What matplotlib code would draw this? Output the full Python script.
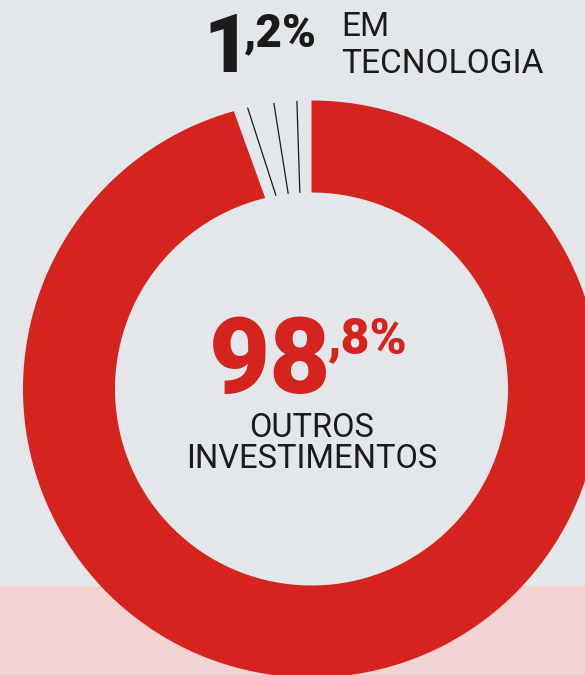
import numpy as np
import matplotlib
matplotlib.use("Agg")
import matplotlib.pyplot as plt
from matplotlib.patches import Polygon, Rectangle

# ---- data ----
categories = ["Outros investimentos", "Em tecnologia"]
shares = [98.8, 1.2]
big_labels = ["98", "1"]
small_labels = [",8%", ",2%"]
text_labels = [["OUTROS", "INVESTIMENTOS"], ["EM", "TECNOLOGIA"]]

# ---- style ----
BG = "#e3e7ea"
PINK = "#f4d3d3"
RED = "#d5231e"
DARK = "#1b1b1b"
W, H = 585, 675
CX, CY = 311.5, 389.0
R_OUT, R_IN = 288.5, 196.5
GAP_OUT, GAP_IN = 11.3, 9.3          # visual gap around the small slice (deg)
HATCH_ANGLES = [(-12.8, -10.4), (-7.5, -6.8), (-2.9, -3.4)]  # (outer, inner) deg

plt.rcParams['font.family'] = ['Roboto', 'DejaVu Sans']

fig = plt.figure(figsize=(W / 100, H / 100), dpi=100, facecolor=BG)
ax = fig.add_axes([0, 0, 1, 1])
ax.set_xlim(0, W)
ax.set_ylim(H, 0)
ax.set_aspect('equal')
ax.axis('off')
ax.set_facecolor(BG)

ax.add_patch(Rectangle((0, CY + R_IN), W, H - (CY + R_IN), color=PINK, zorder=0, lw=0))


def pt(phi_deg, r):
    p = np.deg2rad(phi_deg)
    return CX + r * np.sin(p), CY - r * np.cos(p)


# main slice (clockwise from 12 o'clock)
span = 360.0 * shares[0] / sum(shares)
end_out = span - GAP_OUT
end_in = span - GAP_IN
ph_o = np.linspace(0, end_out, 400)
ph_i = np.linspace(end_in, 0, 400)
outer = np.column_stack(pt(ph_o, R_OUT))
inner = np.column_stack(pt(ph_i, R_IN))
ax.add_patch(Polygon(np.vstack([outer, inner]), closed=True, color=RED, lw=0, zorder=2))

# small slice drawn as thin lines
for a_o, a_i in HATCH_ANGLES:
    x0, y0 = pt(a_o, R_OUT)
    x1, y1 = pt(a_i, R_IN)
    ax.plot([x0, x1], [y0, y1], color=DARK, lw=0.9, zorder=3, solid_capstyle='butt')

# center label
ax.text(209, 393, big_labels[0], color=RED, fontsize=76, fontweight=900,
        ha='left', va='baseline', zorder=4)
ax.text(328, 353, small_labels[0], color=RED, fontsize=36, fontweight=900,
        ha='left', va='baseline', zorder=4)
ax.text(312, 437, text_labels[0][0], color=DARK, fontsize=23.5, ha='center', va='baseline', zorder=4)
ax.text(312, 468.5, text_labels[0][1], color=DARK, fontsize=23.5, ha='center', va='baseline', zorder=4)

# top label
ax.text(203, 72, big_labels[1], color=DARK, fontsize=58, fontweight=900,
        ha='left', va='baseline', zorder=4)
ax.text(243, 46.5, small_labels[1], color=DARK, fontsize=33, fontweight=900,
        ha='left', va='baseline', zorder=4)
ax.text(341, 36, text_labels[1][0], color=DARK, fontsize=24, ha='left', va='baseline', zorder=4)
ax.text(341, 73, text_labels[1][1], color=DARK, fontsize=24, ha='left', va='baseline', zorder=4)

fig.savefig("out.png", dpi=100, facecolor=BG)
